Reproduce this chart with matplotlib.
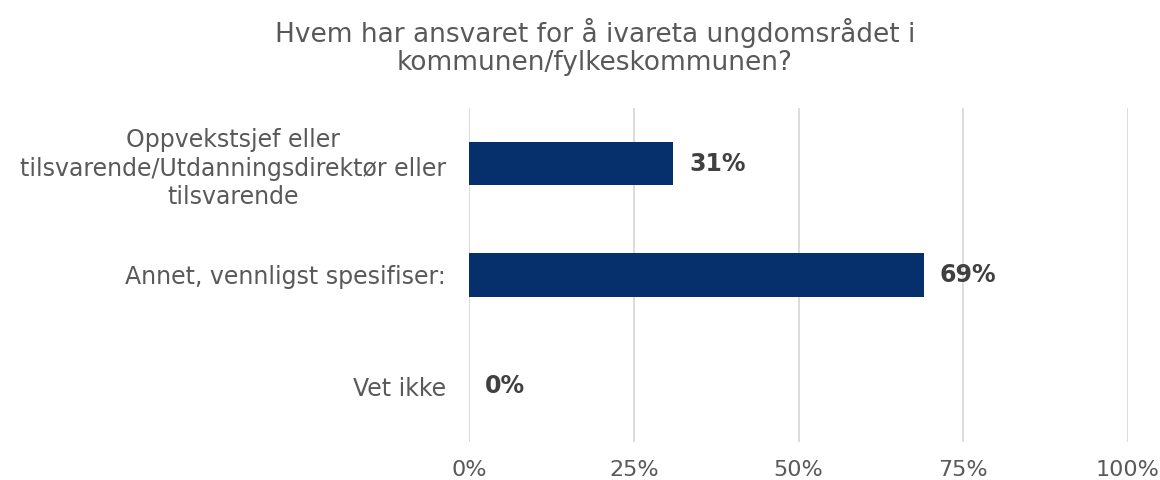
import matplotlib.pyplot as plt
from matplotlib.ticker import FuncFormatter

# data
categories = ['Oppvekstsjef eller\ntilsvarende/Utdanningsdirektør eller\ntilsvarende',
              'Annet, vennligst spesifiser:',
              'Vet ikke']
values = [0.31, 0.69, 0.0]
xticks = [0, 0.25, 0.5, 0.75, 1.0]
title = 'Hvem har ansvaret for å ivareta ungdomsrådet i\nkommunen/fylkeskommunen?'

plt.rcParams['font.family'] = ['DejaVu Sans']

fig = plt.figure(figsize=(11.6, 4.8), dpi=100)
ax = fig.add_axes([469 / 1160, 1 - 442 / 480, (1128 - 469) / 1160, (442 - 108) / 480])

y = list(range(len(categories)))
ax.barh(y, values, height=0.39, color='#06306B')

for yi, v in zip(y, values):
    ax.annotate(f'{v:.0%}', xy=(v, yi), xytext=(16, 0), textcoords='offset pixels',
                va='center', ha='left', fontsize=17, fontweight='bold', color='#404040')

ax.set_xlim(0, 1)
ax.set_ylim(len(categories) - 0.5, -0.5)
ax.set_xticks(xticks)
ax.xaxis.set_major_formatter(FuncFormatter(lambda x, p: f'{x:.0%}'))
ax.set_yticks(y)
ax.set_yticklabels(categories, ha='right', multialignment='center', linespacing=1.25)
ax.tick_params(axis='y', length=0, pad=16.5, labelsize=17, labelcolor='#595959')
ax.tick_params(axis='x', length=0, pad=13, labelsize=16, labelcolor='#595959')

ax.grid(axis='x', color='#D9D9D9', linewidth=1.3)
ax.set_axisbelow(True)
for s in ax.spines.values():
    s.set_visible(False)

fig.text(595 / 1160, 1 - 47 / 480, title, ha='center', va='center', fontsize=19,
         color='#595959', linespacing=1.1)

fig.savefig('out.png')
